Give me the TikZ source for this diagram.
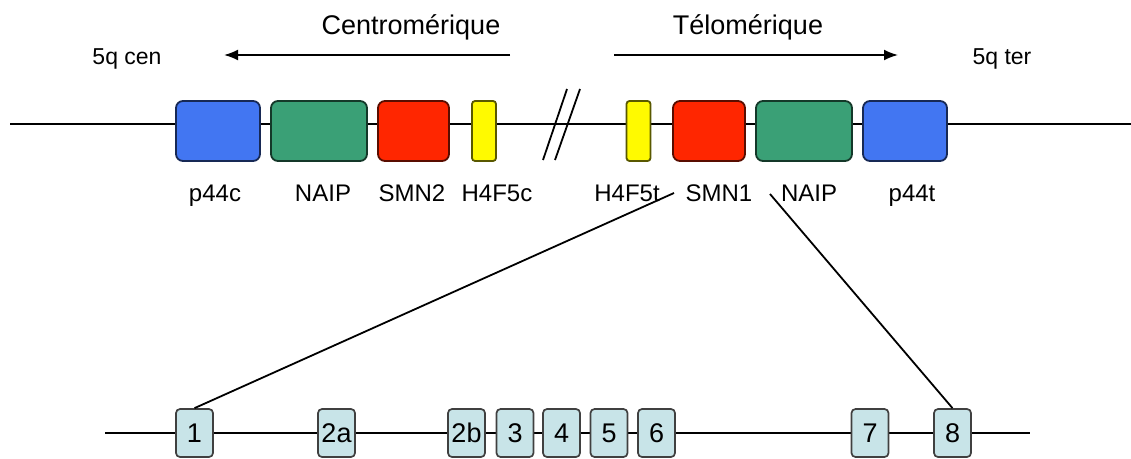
\documentclass[tikz,border=0pt]{standalone}
\usepackage{fontspec}
\setmainfont{Liberation Sans}
\usetikzlibrary{positioning,arrows.meta}

\definecolor{p44blue}{RGB}{66,118,242}
\definecolor{naipgreen}{RGB}{58,160,118}
\definecolor{smnred}{RGB}{255,38,0}
\definecolor{h4yellow}{RGB}{255,250,0}
\definecolor{exonfill}{RGB}{200,228,232}

\begin{document}
\begin{tikzpicture}[x=1pt, y=-1pt,
    gene/.style={rectangle, rounded corners=7pt, draw=#1!35!black, fill=#1, line width=1.8pt, minimum height=60pt, inner sep=0pt},
    exon/.style={rectangle, rounded corners=4pt, draw=black!75, fill=exonfill, line width=1.7pt, minimum width=37pt, minimum height=48pt, inner sep=0pt, font=\fontsize{27}{30}\selectfont},
    glabel/.style={anchor=base, font=\fontsize{24}{28}\selectfont},
    dirlabel/.style={anchor=base, font=\fontsize{27}{30}\selectfont},
    endlabel/.style={anchor=base, font=\fontsize{23}{27}\selectfont},
    dirarrow/.style={line width=1.8pt, -{Latex[length=14pt, width=11pt]}}]
    \useasboundingbox (0,0) rectangle (1131,458);

    % chromosome
    \coordinate (cenend) at (10,124);
    \coordinate (terend) at (1131,124);
    \draw[line width=1.8pt] (cenend) -- (terend);

    \node[gene=p44blue, minimum width=84pt] (p44c) at (218,131) {};
    \node[gene=naipgreen, minimum width=96pt] (naipc) at (319,131) {};
    \node[gene=smnred, minimum width=71pt] (smn2) at (413.5,131) {};
    \node[gene=h4yellow, minimum width=24pt, rounded corners=3pt] (h4f5c) at (484,131) {};
    \node[gene=h4yellow, minimum width=24pt, rounded corners=3pt] (h4f5t) at (638.5,131) {};
    \node[gene=smnred, minimum width=72pt] (smn1) at (709,131) {};
    \node[gene=naipgreen, minimum width=96pt] (naipt) at (804,131) {};
    \node[gene=p44blue, minimum width=84pt] (p44t) at (905,131) {};

    % break
    \draw[line width=1.8pt] (543,160) -- (567,89);
    \draw[line width=1.8pt] (555,160) -- (580,89);

    \node[glabel] (p44clbl) at (215,201) {p44c};
    \node[glabel] (naipclbl) at (323,201) {NAIP};
    \node[glabel] (smn2lbl) at (412,201) {SMN2};
    \node[glabel] (h4f5clbl) at (497,201) {H4F5c};
    \node[glabel] (h4f5tlbl) at (627,201) {H4F5t};
    \node[glabel] (smn1lbl) at (719,201) {SMN1};
    \node[glabel] (naiptlbl) at (809,201) {NAIP};
    \node[glabel] (p44tlbl) at (912,201) {p44t};

    % orientation
    \node[dirlabel] (centro) at (411,34) {Centromérique};
    \node[dirlabel] (telo) at (748,34) {Télomérique};
    \node[endlabel] (qcen) at (127,64) {5q cen};
    \node[endlabel] (qter) at (1002,64) {5q ter};
    \coordinate (censtart) at (510,55);
    \coordinate (censtop) at (224,55);
    \coordinate (terstart) at (614,55);
    \coordinate (terstop) at (898,55);
    \draw[dirarrow] (censtart) -- (censtop);
    \draw[dirarrow] (terstart) -- (terstop);

    % SMN1 exons
    \coordinate (exstart) at (105,433);
    \coordinate (exend) at (1030,433);
    \draw[line width=1.8pt] (exstart) -- (exend);

    \node[exon] (e1) at (194.5,433) {1};
    \node[exon] (e2a) at (336.5,433) {2a};
    \node[exon] (e2b) at (466.5,433) {2b};
    \node[exon] (e3) at (515,433) {3};
    \node[exon] (e4) at (561.5,433) {4};
    \node[exon] (e5) at (609,433) {5};
    \node[exon] (e6) at (656.5,433) {6};
    \node[exon] (e7) at (870,433) {7};
    \node[exon] (e8) at (952.5,433) {8};

    % zoom on SMN1
    \coordinate (zoomleft) at (674,193);
    \coordinate (zoomright) at (770,194);
    \draw[line width=1.8pt] (zoomleft) -- (e1.north);
    \draw[line width=1.8pt] (zoomright) -- (e8.north);
\end{tikzpicture}
\end{document}
